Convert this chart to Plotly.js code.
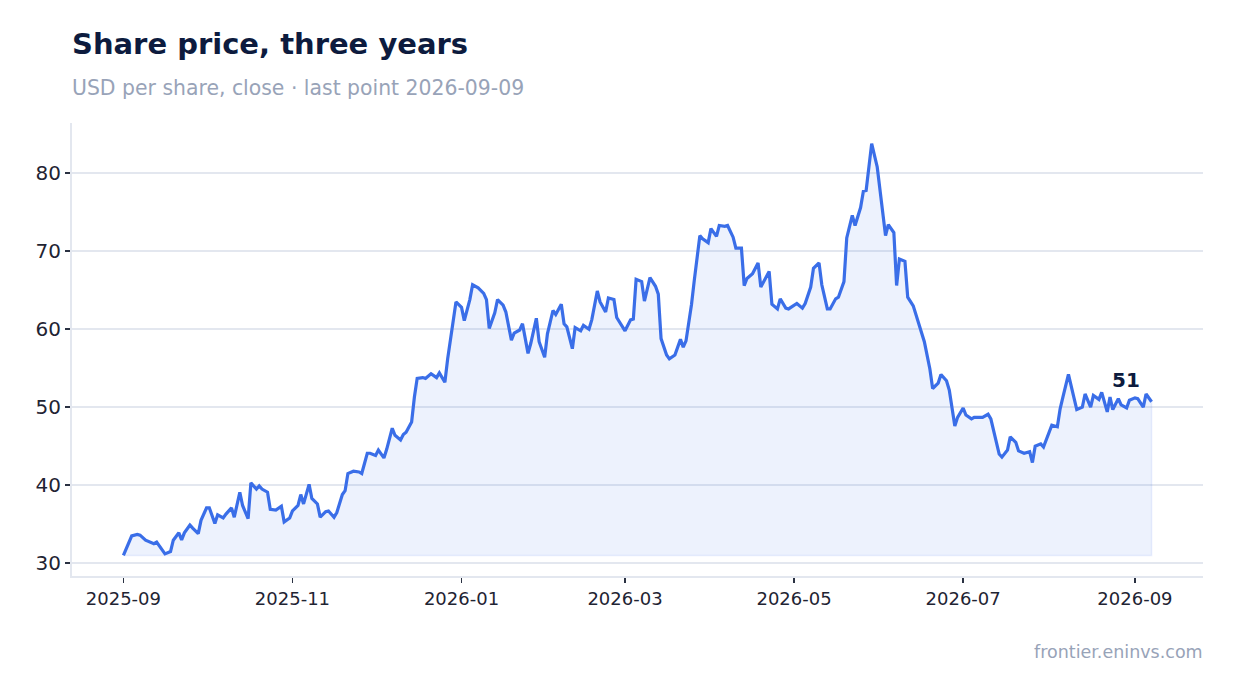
<!DOCTYPE html>
<html>
<head>
<meta charset="utf-8">
<script src="https://cdn.plot.ly/plotly-3.0.1.min.js"></script>
<style>
  html, body { margin: 0; padding: 0; background: #ffffff; }
  #chart { width: 1234px; height: 693px; }
</style>
</head>
<body>
<div id="chart"></div>
<script>
// ---- Data ----
const START_DATE = '2025-09-01';
// calendar-day offset of each close from START_DATE
const DAY_OFFSET = [
  0,2,3,5,6,8,10,11,12,14,
  15,17,18,20,21,22,24,25,27,28,
  30,31,33,34,36,37,39,40,42,43,
  45,46,48,49,50,52,53,55,57,58,
  60,61,63,64,65,67,68,70,71,73,
  74,76,77,79,80,81,83,85,86,88,
  89,91,92,94,95,97,98,100,101,102,
  104,105,106,108,109,111,113,114,116,117,
  119,120,122,123,125,126,128,130,131,132,
  134,135,137,138,140,141,143,144,146,147,
  149,150,152,153,155,156,158,159,160,162,
  163,165,166,168,169,171,172,174,175,177,
  178,180,181,183,184,185,187,188,190,192,
  193,194,196,197,199,201,202,203,205,206,
  208,209,211,212,214,215,217,218,220,221,
  223,224,225,227,229,230,231,233,234,236,
  237,239,240,242,243,245,246,248,249,251,
  252,254,255,257,258,260,261,263,264,266,
  267,268,270,272,273,275,276,278,279,280,
  282,283,285,286,288,289,291,292,294,295,
  297,298,300,301,303,304,306,307,309,310,
  312,313,314,316,317,319,320,322,323,325,
  327,328,329,331,332,334,335,337,338,339,
  341,343,344,346,347,349,350,352,353,355,
  356,357,359,360,362,363,365,366,368,369,
  371
];
// close price, USD per share
const PRICE = [
  31.0,32.7,33.5,33.7,33.6,32.95,32.7,32.5,32.7,31.7,
  31.2,31.5,32.95,33.9,33.0,33.9,34.9,34.5,33.8,35.5,
  37.1,37.1,35.1,36.2,35.8,36.3,37.1,35.9,39.1,37.4,
  35.7,40.3,39.5,39.9,39.5,39.1,36.9,36.8,37.3,35.3,
  35.8,36.7,37.4,38.8,37.6,40.1,38.3,37.6,35.9,36.6,
  36.7,35.9,36.5,38.8,39.3,41.5,41.8,41.7,41.5,44.1,
  44.1,43.8,44.5,43.5,44.6,47.3,46.4,45.8,46.5,46.8,
  48.1,51.3,53.7,53.8,53.7,54.3,53.8,54.4,53.2,56.2,
  61.2,63.5,62.8,61.1,63.8,65.7,65.3,64.6,63.8,60.1,
  62.1,63.8,63.1,62.2,58.6,59.5,59.9,60.7,56.9,58.2,
  61.4,58.4,56.4,59.4,62.4,61.9,63.2,60.7,60.3,57.5,
  60.2,59.8,60.5,60.0,61.2,64.9,63.5,62.2,64.0,63.8,
  61.5,60.4,59.8,61.2,61.3,66.4,66.1,63.6,66.6,65.5,
  64.5,58.8,56.7,56.2,56.7,58.7,57.7,58.5,63.2,66.3,
  72.0,71.6,71.1,72.9,71.9,73.3,73.2,73.3,71.8,70.4,
  70.4,65.6,66.5,67.1,68.5,65.4,66.1,67.4,63.2,62.6,
  63.9,62.7,62.6,63.0,63.3,62.7,63.3,65.4,67.8,68.5,
  65.7,62.6,62.6,63.9,64.1,66.1,71.7,74.6,73.3,75.6,
  77.7,77.8,83.8,80.8,78.0,72.0,73.4,72.4,65.6,69.0,
  68.7,64.1,63.0,61.8,59.4,58.4,54.9,52.4,53.1,54.2,
  53.4,52.2,47.6,48.7,49.9,49.0,48.5,48.7,48.7,48.7,
  49.1,48.5,47.0,44.0,43.6,44.5,46.2,45.5,44.4,44.1,
  44.3,42.9,45.0,45.3,44.9,46.6,47.7,47.5,49.8,51.3,
  54.2,51.2,49.7,50.0,51.7,50.0,51.5,51.0,51.9,49.4,
  51.3,49.7,51.1,50.3,49.9,50.9,51.2,51.1,50.0,51.7,
  50.7
];
const Y_TICKS = [30, 40, 50, 60, 70, 80];
const TITLE = 'Share price, three years';
const SUBTITLE = 'USD per share, close · last point 2026-09-09';
const SOURCE = 'frontier.eninvs.com';

// ---- Build ----
const DAY_MS = 86400000;
const t0 = Date.parse(START_DATE + 'T00:00:00Z');
const dates = DAY_OFFSET.map(d => new Date(t0 + d * DAY_MS).toISOString().slice(0, 10));

const minV = Math.min(...PRICE), maxV = Math.max(...PRICE);
const ySpan = maxV - minV;
const yRange = [minV - 0.05 * ySpan, maxV + 0.05 * ySpan];
const tFirst = t0 + DAY_OFFSET[0] * DAY_MS;
const tLast = t0 + DAY_OFFSET[DAY_OFFSET.length - 1] * DAY_MS;
const xPad = 0.05 * (tLast - tFirst);
const xRange = [new Date(tFirst - xPad).toISOString(), new Date(tLast + xPad).toISOString()];

const FONT = 'DejaVu Sans, Verdana, sans-serif';
const BLUE = '#3a6ee8';
const NAVY = '#0d1b3e';
const GREY = '#98a3b8';
const GRID = '#e3e7ef';

const areaTrace = {
  x: dates.concat(dates.slice().reverse()),
  y: PRICE.concat(PRICE.map(() => minV)),
  type: 'scatter', mode: 'lines',
  fill: 'toself',
  fillcolor: 'rgba(58,110,232,0.09)',
  line: { color: 'rgba(58,110,232,0.10)', width: 1.5 },
  hoverinfo: 'skip', showlegend: false
};
const lineTrace = {
  x: dates, y: PRICE,
  type: 'scatter', mode: 'lines',
  line: { color: BLUE, width: 3.2 },
  showlegend: false
};

const lastX = dates[dates.length - 1];
const lastY = PRICE[PRICE.length - 1];
const layout = {
  width: 1234, height: 693,
  margin: { l: 72, r: 31, t: 123, b: 117 },
  paper_bgcolor: '#ffffff', plot_bgcolor: '#ffffff',
  font: { family: FONT, color: '#1f2433' },
  title: {
    text: '<b>' + TITLE + '</b>',
    font: { family: FONT, size: 29, color: NAVY },
    xref: 'container', x: 72 / 1234, xanchor: 'left',
    yref: 'container', y: 1 - 44 / 693, yanchor: 'middle'
  },
  xaxis: {
    type: 'date', range: xRange,
    tick0: START_DATE, dtick: 'M2', tickformat: '%Y-%m',
    ticks: 'outside', ticklen: 5, tickwidth: 1.5, tickcolor: '#2a3142',
    tickfont: { family: FONT, size: 18, color: '#1f2433' },
    showgrid: false, zeroline: false,
    showline: true, linecolor: GRID, linewidth: 2
  },
  yaxis: {
    range: yRange, tickvals: Y_TICKS,
    ticks: 'outside', ticklen: 5, tickwidth: 1.5, tickcolor: '#2a3142',
    tickfont: { family: FONT, size: 20, color: '#1f2433' },
    showgrid: true, gridcolor: GRID, gridwidth: 1.5, zeroline: false,
    showline: true, linecolor: GRID, linewidth: 2
  },
  annotations: [
    {
      text: SUBTITLE, showarrow: false,
      xref: 'paper', x: 0, xanchor: 'left', xshift: -2,
      yref: 'paper', y: (576 - 88) / 453, yanchor: 'middle',
      font: { family: FONT, size: 20.4, color: GREY }
    },
    {
      text: '<b>' + Math.round(lastY) + '</b>', showarrow: false,
      x: lastX, y: lastY, xref: 'x', yref: 'y',
      xshift: -26, yshift: 22,
      font: { family: FONT, size: 20, color: NAVY }
    },
    {
      text: SOURCE, showarrow: false,
      xref: 'paper', x: 1, xanchor: 'right', xshift: 2,
      yref: 'paper', y: (576 - 652) / 453, yanchor: 'middle',
      font: { family: FONT, size: 17.5, color: GREY }
    }
  ]
};

Plotly.newPlot('chart', [areaTrace, lineTrace], layout, { displayModeBar: false, staticPlot: true });
</script>
</body>
</html>
